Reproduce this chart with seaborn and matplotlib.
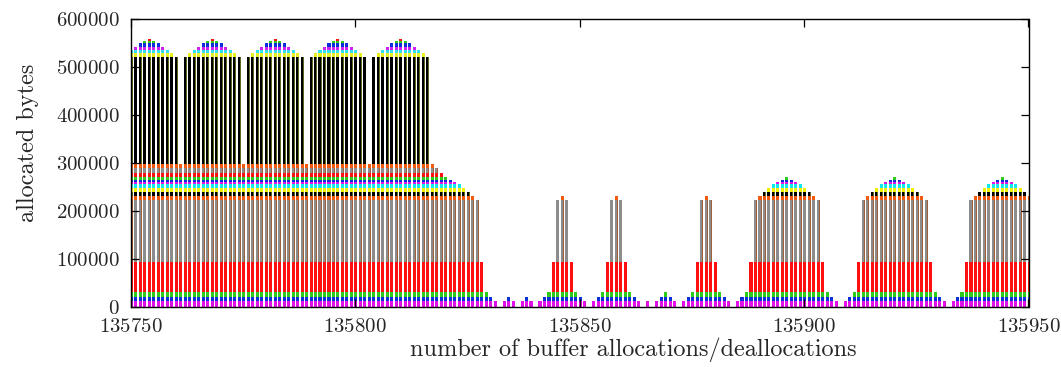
import numpy as np
import matplotlib
matplotlib.use("Agg")
import matplotlib.pyplot as plt
import seaborn as sns

# first event number on the x axis; one bar per allocation/deallocation event
first_event = 135750

# how many buffers are on the stack after each event
stack_depth = [
    18, 19, 20, 21, 22, 21, 20, 19, 18, 17, 16, 15,
    16, 17, 18, 19, 20, 21, 22, 21, 20, 19, 18, 17, 16, 15,
    16, 17, 18, 19, 20, 21, 22, 21, 20, 19, 18, 17, 16, 15,
    16, 17, 18, 19, 20, 21, 22, 21, 20, 19, 18, 17, 16, 15,
    16, 17, 18, 19, 20, 21, 22, 21, 20, 19, 18, 17, 16, 15,
    14, 13, 12, 11, 10, 9, 8, 7, 6, 5, 4, 3, 2, 1,
    0, 1, 2, 1, 0, 1, 2, 1, 0, 1, 2,
    3, 4, 5, 6, 5, 4, 3, 2, 1, 0,
    1, 2, 3, 4, 5, 6, 5, 4, 3, 2, 1, 0,
    1, 0, 1, 2, 3, 2, 1, 0,
    1, 2, 3, 4, 5, 6, 5, 4, 3, 2, 1, 0,
    1, 2, 3, 4, 5, 6, 7, 8, 9, 10, 11, 12, 11, 10, 9, 8, 7, 6, 5, 4, 3, 2, 1, 0,
    1, 2, 3, 4, 5, 6, 7, 8, 9, 10, 11, 12, 11, 10, 9, 8, 7, 6, 5, 4, 3, 2, 1, 0,
    1, 2, 3, 4, 5, 6, 7, 8, 9, 10, 11, 12, 11, 10, 9, 8, 7, 6,
]

# size in bytes of each buffer on the stack, bottom to top
buffer_bytes = [12000, 8500, 9000, 63000, 130000, 9000, 7000, 9500, 8000, 3500, 5000,
                6500, 8000, 10000, 8000, 224000, 8000, 6000, 7500, 7500, 4000, 4000]

buffer_colors = ["#e010e8", "#0a2fd8", "#2ecc1a", "#ff1010", "#8c8c8c", "#f05a10", "#000000",
                 "#f0f000", "#10e8f0", "#e010e8", "#0a2fd8", "#2ecc1a", "#ff1010", "#8c8c8c",
                 "#f05a10", "#000000", "#e8f020", "#30e0f0", "#d020f0", "#0a2fd8", "#2ecc1a",
                 "#ff1010"]
stripe_colors = list(buffer_colors)
for i, c in enumerate(buffer_colors):
    if c == "#8c8c8c":
        stripe_colors[i] = "#a0603a"
    elif c == "#000000":
        stripe_colors[i] = "#5c6a22"

sns.set_style("ticks")
plt.rcParams["font.family"] = ["cmr10", "DejaVu Serif"]
plt.rcParams["mathtext.fontset"] = "cm"
plt.rcParams["axes.unicode_minus"] = False
plt.rcParams["axes.formatter.use_mathtext"] = True

fig = plt.figure(figsize=(10.61, 3.67), dpi=100)
ax = fig.add_axes([130.6 / 1061, 1 - 306.5 / 367, (1028.5 - 130.6) / 1061, (306.5 - 19) / 367])

events = np.arange(first_event, first_event + len(stack_depth))
depth = np.array(stack_depth)
bottom = np.zeros(len(depth))
for k, (size, col, stripe) in enumerate(zip(buffer_bytes, buffer_colors, stripe_colors)):
    on = depth > k
    ax.bar(events[on] - 0.15, size, width=0.5, bottom=bottom[on], color=col,
           align="edge", linewidth=0)
    ax.bar(events[on] + 0.35, size, width=0.18, bottom=bottom[on], color=stripe,
           align="edge", linewidth=0)
    bottom[on] += size

ax.set_xlim(135750, 135950)
ax.set_ylim(0, 600000)
ax.set_xticks(range(135750, 135951, 50))
ax.set_yticks(range(0, 600001, 100000))
ax.ticklabel_format(useOffset=False, style="plain")
ax.set_axisbelow(False)
ax.tick_params(direction="in", top=True, right=True, length=6, width=0.9,
               color="black", labelsize=15, pad=8)
for s in ax.spines.values():
    s.set_color("black")
    s.set_linewidth(1.0)

ax.set_xlabel("number of buffer allocations/deallocations", fontsize=17.5)
ax.set_ylabel("allocated bytes", fontsize=17.5)
# gnuplot put both labels a bit off-centre
ax.xaxis.set_label_coords(0.56, -0.108)
ax.yaxis.set_label_coords(-0.102, 0.57)

fig.savefig("out.png", dpi=100)
